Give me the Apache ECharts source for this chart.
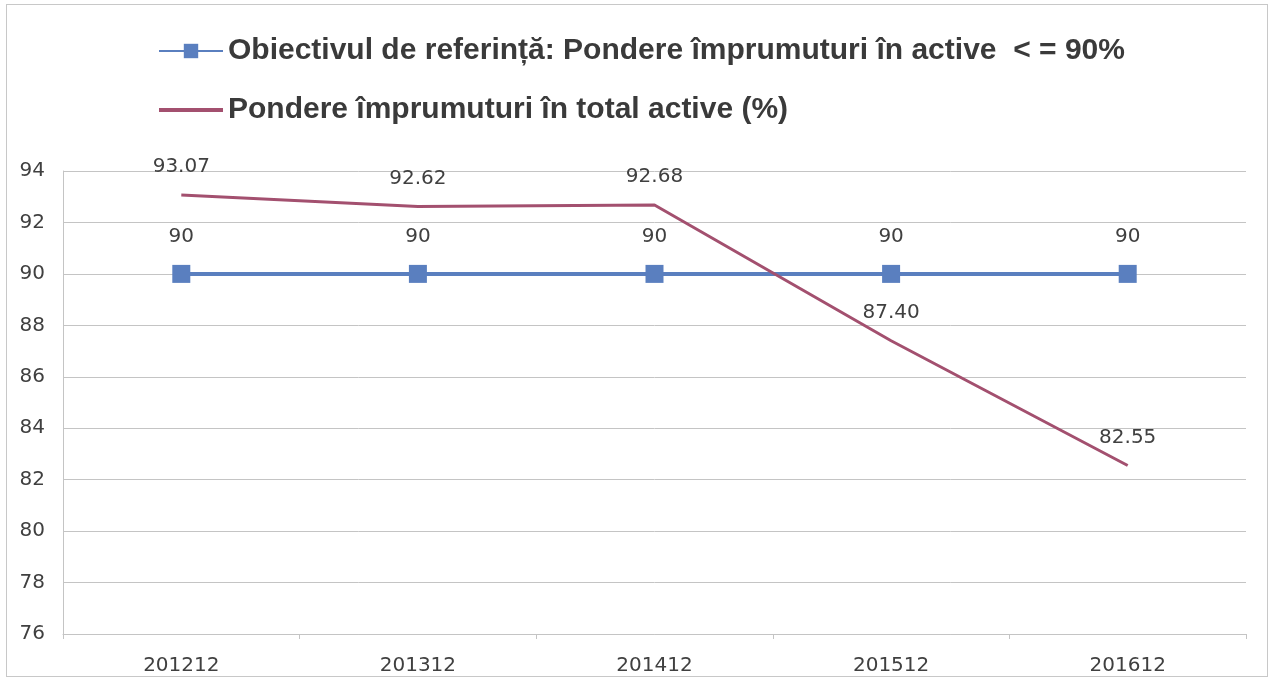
<!DOCTYPE html>
<html>
<head>
<meta charset="utf-8">
<script src="https://cdn.jsdelivr.net/npm/echarts@6/dist/echarts.min.js"></script>
<style>
  html, body { margin: 0; padding: 0; background: #fff; }
  #chart {
    position: absolute; left: 6px; top: 4px;
    width: 1262px; height: 673px;
    border: 1px solid #c8c8c8;
    box-sizing: border-box;
  }
</style>
</head>
<body>
<div id="chart"></div>
<script>
  const categories = ['201212', '201312', '201412', '201512', '201612']
  const targetValues = [90, 90, 90, 90, 90]
  const loanShare = [93.07, 92.62, 92.68, 87.40, 82.55]
  const yMin = 76
  const yMax = 94
  const yStep = 2

  const targetName = 'Obiectivul de referință: Pondere împrumuturi în active  < = 90%'
  const loanName = 'Pondere împrumuturi în total active (%)'

  const chart = echarts.init(document.getElementById('chart'))

  const labelText = {
    color: '#404040',
    fontSize: 20,
    fontFamily: 'DejaVu Sans, sans-serif'
  }

  const option = {
    animation: false,
    legend: {
      orient: 'vertical',
      left: 146,
      top: 26,
      itemGap: 29,
      itemWidth: 64,
      itemHeight: 18,
      symbolKeepAspect: true,
      textStyle: {
        fontFamily: 'Liberation Sans, Arial, sans-serif',
        fontWeight: 'bold',
        fontSize: 30,
        color: '#3a3a3a'
      },
      data: [
        { name: targetName },
        { name: loanName, icon: 'path://M0,0 L64,0 L64,4 L0,4 Z', itemStyle: { color: '#a3506f' } }
      ]
    },
    grid: {
      left: 56,
      right: 21,
      top: 166,
      bottom: 42
    },
    xAxis: {
      type: 'category',
      data: categories,
      axisLine: { lineStyle: { color: '#c4c4c4' } },
      axisTick: { show: true, lineStyle: { color: '#c4c4c4' } },
      axisLabel: Object.assign({ margin: 22 }, labelText)
    },
    yAxis: {
      type: 'value',
      min: yMin,
      max: yMax,
      interval: yStep,
      axisLine: { show: true, lineStyle: { color: '#c4c4c4' } },
      axisTick: { show: false },
      splitLine: { lineStyle: { color: '#c4c4c4' } },
      axisLabel: Object.assign({ margin: 18 }, labelText)
    },
    series: [
      {
        name: targetName,
        type: 'line',
        data: targetValues,
        symbol: 'rect',
        symbolSize: 18,
        lineStyle: { color: '#5a7fbf', width: 4 },
        itemStyle: { color: '#5a7fbf' },
        label: Object.assign({ show: true, position: 'top', distance: 18 }, labelText)
      },
      {
        name: loanName,
        type: 'line',
        data: loanShare,
        symbol: 'circle',
        symbolSize: 0,
        lineStyle: { color: '#a3506f', width: 3 },
        itemStyle: { color: '#a3506f' },
        label: Object.assign({
          show: true,
          position: 'top',
          distance: 18,
          formatter: p => p.value.toFixed(2)
        }, labelText)
      }
    ]
  }

  chart.setOption(option)
</script>
</body>
</html>
